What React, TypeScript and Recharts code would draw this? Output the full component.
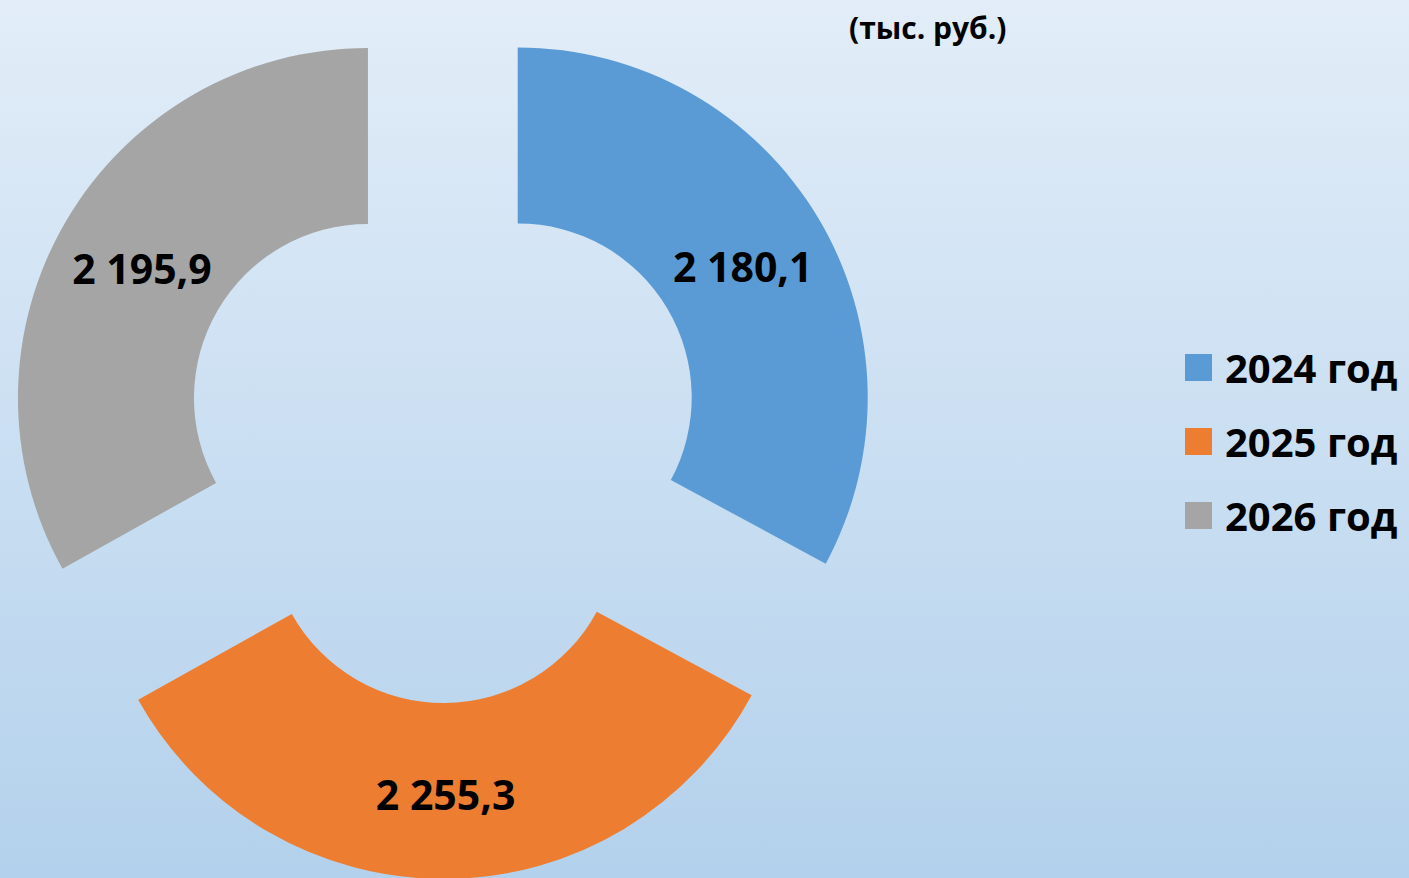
import React from "react";
import { PieChart, Pie, Cell, Sector, Legend } from "recharts";

const years = ["2024 год", "2025 год", "2026 год"];
const amounts = [2180.1, 2255.3, 2195.9];
const colors = ["#5b9bd5", "#ed7d31", "#a5a5a5"];

const data = years.map((name, i) => ({ name, value: amounts[i] }));

const EXPLODE = 87;
const RAD = Math.PI / 180;
const FONT = "'Open Sans', sans-serif";

function fmt(v: number) {
  const [int, dec] = v.toFixed(1).split(".");
  return int.replace(/\B(?=(\d{3})+(?!\d))/g, " ") + "," + dec;
}

function shifted(props: any) {
  const { cx, cy, midAngle } = props;
  const dx = EXPLODE * Math.cos(-midAngle * RAD);
  const dy = EXPLODE * Math.sin(-midAngle * RAD);
  return <Sector {...props} cx={cx + dx} cy={cy + dy} stroke="none" />;
}

function renderLabel(props: any) {
  const { cx, cy, midAngle, innerRadius, outerRadius, value } = props;
  const r = EXPLODE + (innerRadius + outerRadius) / 2;
  const x = cx + r * Math.cos(-midAngle * RAD);
  const y = cy + r * Math.sin(-midAngle * RAD) + 3;
  return (
    <text x={x} y={y} textAnchor="middle" dominantBaseline="central" fontFamily={FONT} fontWeight={700} fontSize={41} fill="#000">
      {fmt(value)}
    </text>
  );
}

function renderLegend(props: any) {
  const { payload } = props;
  return (
    <div style={{ fontFamily: FONT }}>
      {payload.map((p: any, i: number) => (
        <div key={i} style={{ display: "flex", alignItems: "center", height: 74 }}>
          <div style={{ width: 27, height: 27, background: colors[i], marginRight: 13 }} />
          <span style={{ fontSize: 40, fontWeight: 700, color: "#000" }}>{p.value}</span>
        </div>
      ))}
    </div>
  );
}

export default function App() {
  return (
    <div
      style={{
        position: "absolute",
        left: 0,
        top: 0,
        width: 1409,
        height: 878,
        overflow: "hidden",
        background: "linear-gradient(180deg, #e2edf8 0%, #b3d1ec 100%)",
      }}
    >
      <div style={{ position: "absolute", left: 849, top: 7, fontFamily: FONT, fontWeight: 700, fontSize: 30, color: "#000" }}>
        (тыс. руб.)
      </div>
      <PieChart width={1409} height={878} margin={{ top: 0, right: 0, bottom: 0, left: 0 }}>
        <Pie
          data={data}
          dataKey="value"
          nameKey="name"
          cx={443}
          cy={442}
          innerRadius={174}
          outerRadius={350}
          startAngle={90}
          endAngle={-270}
          stroke="none"
          shape={shifted}
          inactiveShape={shifted}
          label={renderLabel}
          labelLine={false}
          isAnimationActive={false}
        >
          {data.map((d, i) => (
            <Cell key={d.name} fill={colors[i]} />
          ))}
        </Pie>
        <Legend
          layout="vertical"
          content={renderLegend}
          wrapperStyle={{ position: "absolute", left: 1185, top: 330, width: 230 }}
        />
      </PieChart>
    </div>
  );
}
